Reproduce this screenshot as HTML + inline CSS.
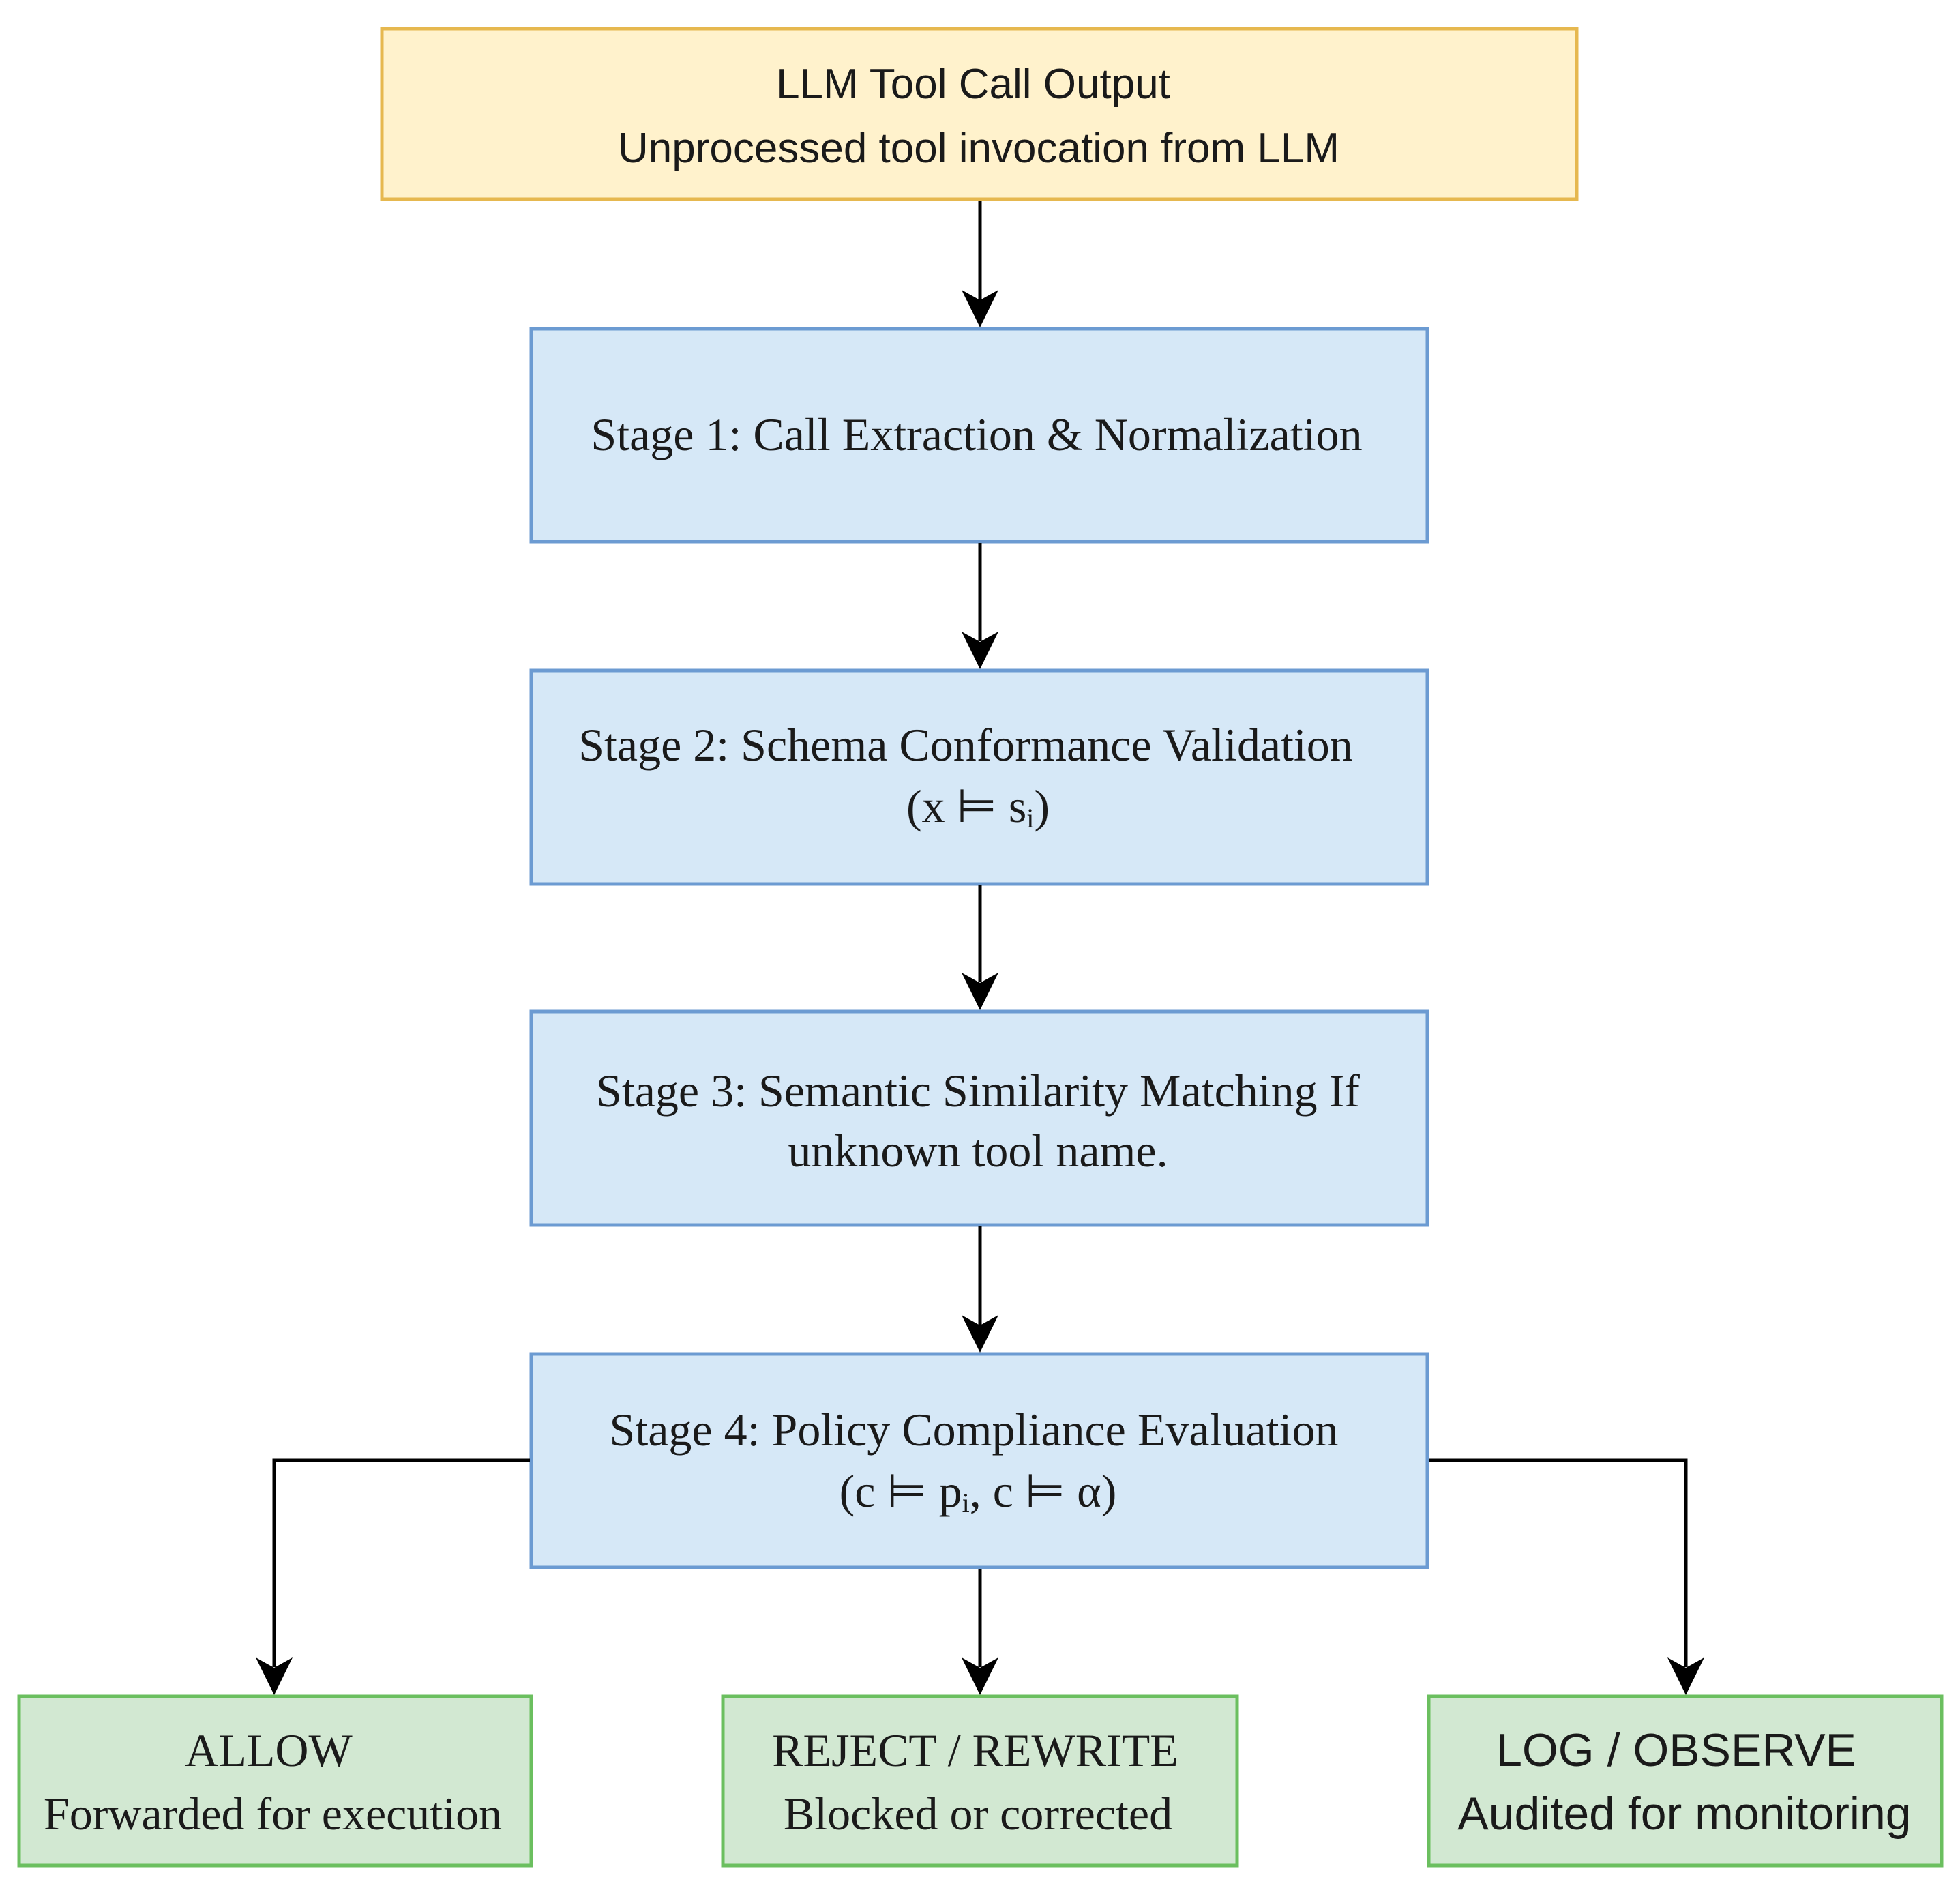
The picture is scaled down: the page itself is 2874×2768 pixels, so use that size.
<!DOCTYPE html>
<html><head><meta charset="utf-8"><style>
html,body{margin:0;padding:0;background:#fff;}
svg{display:block;}
.sans{font-family:"Liberation Sans",sans-serif;}
.serif{font-family:"Liberation Serif",serif;}
text{fill:#1a1a1a;}
</style></head><body>
<svg width="2874" height="2768" viewBox="0 0 2874 2768" xmlns="http://www.w3.org/2000/svg">
<rect x="560" y="42" width="1752" height="250" fill="#fff2cc" stroke="#e6b84f" stroke-width="5"/>
<rect x="779" y="482" width="1314" height="312" fill="#d6e8f7" stroke="#6c9bd2" stroke-width="5"/>
<rect x="779" y="983" width="1314" height="313" fill="#d6e8f7" stroke="#6c9bd2" stroke-width="5"/>
<rect x="779" y="1483" width="1314" height="313" fill="#d6e8f7" stroke="#6c9bd2" stroke-width="5"/>
<rect x="779" y="1985" width="1314" height="313" fill="#d6e8f7" stroke="#6c9bd2" stroke-width="5"/>
<rect x="28" y="2487" width="751" height="248" fill="#d2e8d2" stroke="#6bbf5f" stroke-width="5"/>
<rect x="1060" y="2487" width="754" height="248" fill="#d2e8d2" stroke="#6bbf5f" stroke-width="5"/>
<rect x="2095" y="2487" width="752" height="248" fill="#d2e8d2" stroke="#6bbf5f" stroke-width="5"/>
<g stroke="#000" stroke-width="5" fill="none">
<line x1="1437" y1="294" x2="1437" y2="440"/>
<line x1="1437" y1="796" x2="1437" y2="940"/>
<line x1="1437" y1="1298" x2="1437" y2="1440"/>
<line x1="1437" y1="1798" x2="1437" y2="1942"/>
<line x1="1437" y1="2300" x2="1437" y2="2444"/>
<polyline points="777,2141 402,2141 402,2444"/>
<polyline points="2095,2141 2472,2141 2472,2444"/>
</g>
<g fill="#000">
<polygon points="1437,480 1410,425 1437,440 1464,425"/>
<polygon points="1437,981 1410,926 1437,941 1464,926"/>
<polygon points="1437,1481 1410,1426 1437,1441 1464,1426"/>
<polygon points="1437,1983 1410,1928 1437,1943 1464,1928"/>
<polygon points="1437,2485 1410,2430 1437,2445 1464,2430"/>
<polygon points="402,2485 375,2430 402,2445 429,2430"/>
<polygon points="2472,2485 2445,2430 2472,2445 2499,2430"/>
</g>
<g text-anchor="middle">
<text class="sans" x="1427" y="144" font-size="62">LLM Tool Call Output</text>
<text class="sans" x="1435" y="238" font-size="62">Unprocessed tool invocation from LLM</text>
<text class="serif" x="1432" y="660" font-size="68">Stage 1: Call Extraction &amp; Normalization</text>
<text class="serif" x="1416" y="1115" font-size="68">Stage 2: Schema Conformance Validation</text>
<text class="serif" x="1434" y="1205" font-size="68">(x ⊨ s<tspan font-size="40" dy="8">i</tspan><tspan dy="-8">)</tspan></text>
<text class="serif" x="1434" y="1622" font-size="68">Stage 3: Semantic Similarity Matching If</text>
<text class="serif" x="1434" y="1710" font-size="68">unknown tool name.</text>
<text class="serif" x="1428" y="2119" font-size="68">Stage 4: Policy Compliance Evaluation</text>
<text class="serif" x="1434" y="2209" font-size="68">(c ⊨ p<tspan font-size="40" dy="8">i</tspan><tspan dy="-8">, c ⊨ α)</tspan></text>
<text class="serif" x="394" y="2589" font-size="68">ALLOW</text>
<text class="serif" x="400" y="2682" font-size="68">Forwarded for execution</text>
<text class="serif" x="1430" y="2589" font-size="68">REJECT / REWRITE</text>
<text class="serif" x="1434" y="2682" font-size="68">Blocked or corrected</text>
<text class="sans" x="2458" y="2589" font-size="68">LOG / OBSERVE</text>
<text class="sans" x="2470" y="2682" font-size="68">Audited for monitoring</text>
</g>
</svg>
</body></html>
